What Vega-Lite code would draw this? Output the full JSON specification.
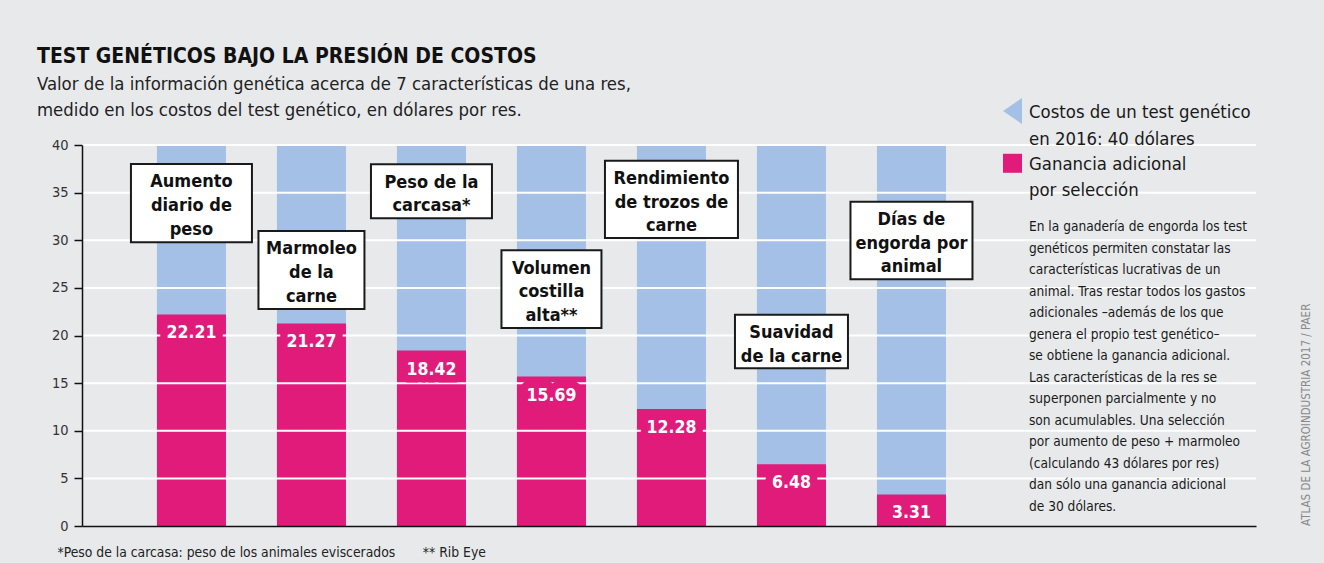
{
  "$schema": "https://vega.github.io/schema/vega-lite/v6.json",
  "width": 1174,
  "height": 381,
  "autosize": {"type": "none"},
  "padding": {"left": 82, "top": 145, "right": 68, "bottom": 37},
  "background": "#e7e9eb",
  "config": {"view": {"stroke": null}, "font": "DejaVu Sans Condensed, sans-serif"},
  "title": {
    "text": "TEST GENÉTICOS BAJO LA PRESIÓN DE COSTOS",
    "subtitle": ["Valor de la información genética acerca de 7 características de una res,", "medido en los costos del test genético, en dólares por res."],
    "anchor": "start",
    "frame": "group",
    "dx": -45,
    "offset": -21,
    "font": "DejaVu Sans Condensed, sans-serif",
    "fontSize": 21,
    "fontWeight": "bold",
    "color": "#111111",
    "subtitleFont": "DejaVu Sans Condensed, sans-serif",
    "subtitleFontSize": 18.4,
    "subtitleColor": "#222222",
    "subtitleLineHeight": 26,
    "subtitlePadding": 8
  },
  "datasets": {
    "rasgos": [
      {"rasgo": "Aumento diario de peso", "etiqueta": ["Aumento", "diario de", "peso"], "costo": 40, "ganancia": 22.21, "caja_sup": 38.0, "caja_inf": 29.8},
      {"rasgo": "Marmoleo de la carne", "etiqueta": ["Marmoleo", "de la", "carne"], "costo": 40, "ganancia": 21.27, "caja_sup": 30.97, "caja_inf": 22.78},
      {"rasgo": "Peso de la carcasa*", "etiqueta": ["Peso de la", "carcasa*"], "costo": 40, "ganancia": 18.42, "caja_sup": 37.98, "caja_inf": 32.3},
      {"rasgo": "Volumen costilla alta**", "etiqueta": ["Volumen", "costilla", "alta**"], "costo": 40, "ganancia": 15.69, "caja_sup": 28.94, "caja_inf": 20.8},
      {"rasgo": "Rendimiento de trozos de carne", "etiqueta": ["Rendimiento", "de trozos de", "carne"], "costo": 40, "ganancia": 12.28, "caja_sup": 38.35, "caja_inf": 30.24},
      {"rasgo": "Suavidad de la carne", "etiqueta": ["Suavidad", "de la carne"], "costo": 40, "ganancia": 6.48, "caja_sup": 22.19, "caja_inf": 16.56},
      {"rasgo": "Días de engorda por animal", "etiqueta": ["Días de", "engorda por", "animal"], "costo": 40, "ganancia": 3.31, "caja_sup": 34.05, "caja_inf": 25.9}
    ]
  },
  "layer": [
    {
      "data": {"name": "rasgos"},
      "mark": {"type": "bar", "color": "#a4c0e6"},
      "encoding": {
        "x": {
          "field": "rasgo", "type": "nominal", "sort": null,
          "scale": {
            "domain": ["Aumento diario de peso", "Marmoleo de la carne", "Peso de la carcasa*", "Volumen costilla alta**", "Rendimiento de trozos de carne", "Suavidad de la carne", "Días de engorda por animal", "leyenda", "fuente"],
            "paddingInner": 0.425, "paddingOuter": 0.604, "align": 0.517
          },
          "axis": {
            "labels": false, "ticks": false, "domain": true, "domainColor": "#111111", "domainWidth": 1.5, "zindex": 1,
            "title": "*Peso de la carcasa: peso de los animales eviscerados\u00a0\u00a0\u00a0\u00a0\u00a0\u00a0\u00a0** Rib Eye",
            "titleFont": "DejaVu Sans Condensed, sans-serif",
            "titleFontSize": 13.8, "titleFontWeight": "normal", "titleColor": "#222222",
            "titleAnchor": "start", "titleAlign": "left", "titleBaseline": "alphabetic", "titleX": -25, "titleY": 30
          }
        },
        "y": {
          "field": "costo", "type": "quantitative", "title": null,
          "scale": {"domain": [0, 40], "nice": false},
          "axis": {
            "values": [0, 5, 10, 15, 20, 25, 30, 35, 40], "grid": false, "title": null,
            "domainColor": "#111111", "domainWidth": 1.5, "tickColor": "#111111", "tickWidth": 1.5, "tickSize": 8,
            "labelPadding": 6, "labelFontSize": 14.5, "labelColor": "#333333",
            "labelFont": "DejaVu Sans Condensed, sans-serif", "zindex": 1
          }
        }
      }
    },
    {
      "data": {"name": "rasgos"},
      "mark": {"type": "bar", "color": "#e01b7a"},
      "encoding": {
        "x": {"field": "rasgo", "type": "nominal"},
        "y": {"field": "ganancia", "type": "quantitative", "title": null}
      }
    },
    {
      "data": {"values": [{"v": 5}, {"v": 10}, {"v": 15}, {"v": 20}, {"v": 25}, {"v": 30}, {"v": 35}, {"v": 40}]},
      "mark": {"type": "rule", "color": "#ffffff", "strokeWidth": 2},
      "encoding": {"y": {"field": "v", "type": "quantitative", "title": null}}
    },
    {
      "data": {"name": "rasgos"},
      "mark": {"type": "bar", "fill": "#ffffff", "stroke": "#1a1a1a", "strokeWidth": 2},
      "encoding": {
        "x": {"field": "rasgo", "type": "nominal"},
        "y": {"field": "caja_sup", "type": "quantitative", "title": null},
        "y2": {"field": "caja_inf"},
        "size": {
          "field": "rasgo", "type": "ordinal", "legend": null,
          "scale": {"type": "ordinal", "domain": ["Aumento diario de peso", "Marmoleo de la carne", "Peso de la carcasa*", "Volumen costilla alta**", "Rendimiento de trozos de carne", "Suavidad de la carne", "Días de engorda por animal"], "range": [121, 106, 121, 100, 133, 113, 122]}
        }
      }
    },
    {
      "data": {"name": "rasgos"},
      "mark": {"type": "text", "align": "center", "baseline": "alphabetic", "dy": 23.3, "fontSize": 18, "fontWeight": "bold", "lineHeight": 23.7, "color": "#111111"},
      "encoding": {
        "x": {"field": "rasgo", "type": "nominal"},
        "y": {"field": "caja_sup", "type": "quantitative", "title": null},
        "text": {"field": "etiqueta"}
      }
    },
    {
      "data": {"name": "rasgos"},
      "mark": {"type": "text", "align": "center", "baseline": "alphabetic", "dy": 24, "fontSize": 17.5, "fontWeight": "bold", "fill": "#e01b7a", "stroke": "#e01b7a", "strokeWidth": 15, "strokeJoin": "round"},
      "encoding": {
        "x": {"field": "rasgo", "type": "nominal"},
        "y": {"field": "ganancia", "type": "quantitative", "title": null},
        "text": {"field": "ganancia", "type": "quantitative", "format": ".2f"}
      }
    },
    {
      "data": {"name": "rasgos"},
      "mark": {"type": "text", "align": "center", "baseline": "alphabetic", "dy": 24, "fontSize": 17.5, "fontWeight": "bold", "color": "#ffffff"},
      "encoding": {
        "x": {"field": "rasgo", "type": "nominal"},
        "y": {"field": "ganancia", "type": "quantitative", "title": null},
        "text": {"field": "ganancia", "type": "quantitative", "format": ".2f"}
      }
    },
    {
      "data": {"values": [{"rasgo": "leyenda", "serie": "Costos de un test genético en 2016: 40 dólares", "y": 43.57}]},
      "mark": {"type": "point", "shape": "M0.73,-1L-0.73,0L0.73,1Z", "filled": true, "opacity": 1, "color": "#a4c0e6", "size": 676},
      "encoding": {
        "x": {"field": "rasgo", "type": "nominal", "bandPosition": 0.225},
        "y": {"field": "y", "type": "quantitative", "title": null}
      }
    },
    {
      "data": {"values": [{"rasgo": "leyenda", "serie": "Ganancia adicional por selección", "y": 38.08}]},
      "mark": {"type": "point", "shape": "square", "filled": true, "opacity": 1, "color": "#e01b7a", "size": 361},
      "encoding": {
        "x": {"field": "rasgo", "type": "nominal", "bandPosition": 0.225},
        "y": {"field": "y", "type": "quantitative", "title": null}
      }
    },
    {
      "data": {"values": [
        {"rasgo": "leyenda", "y": 42.8, "texto": ["Costos de un test genético", "en 2016: 40 dólares"]},
        {"rasgo": "leyenda", "y": 37.4, "texto": ["Ganancia adicional", "por selección"]}
      ]},
      "mark": {"type": "text", "align": "left", "baseline": "alphabetic", "fontSize": 18.4, "lineHeight": 26.6, "color": "#1a1a1a"},
      "encoding": {
        "x": {"field": "rasgo", "type": "nominal", "bandPosition": 0.464},
        "y": {"field": "y", "type": "quantitative", "title": null},
        "text": {"field": "texto"}
      }
    },
    {
      "data": {"values": [
        {"rasgo": "leyenda", "y": 30.92, "texto": ["En la ganadería de engorda los test", "genéticos permiten constatar las", "características lucrativas de un", "animal. Tras restar todos los gastos", "adicionales –además de los que", "genera el propio test genético–", "se obtiene la ganancia adicional.", "Las características de la res se", "superponen parcialmente y no", "son acumulables. Una selección", "por aumento de peso + marmoleo", "(calculando 43 dólares por res)", "dan sólo una ganancia adicional", "de 30 dólares."]}
      ]},
      "mark": {"type": "text", "align": "left", "baseline": "alphabetic", "fontSize": 13.6, "lineHeight": 21.5, "color": "#1a1a1a"},
      "encoding": {
        "x": {"field": "rasgo", "type": "nominal", "bandPosition": 0.464},
        "y": {"field": "y", "type": "quantitative", "title": null},
        "text": {"field": "texto"}
      }
    },
    {
      "data": {"values": [{"rasgo": "fuente", "y": 0, "texto": "ATLAS DE LA AGROINDUSTRIA 2017 / PAER"}]},
      "mark": {"type": "text", "align": "left", "baseline": "middle", "angle": 270, "fontSize": 11.5, "color": "#8a8a8a"},
      "encoding": {
        "x": {"field": "rasgo", "type": "nominal", "bandPosition": 2.754},
        "y": {"field": "y", "type": "quantitative", "title": null},
        "text": {"field": "texto"}
      }
    }
  ]
}
